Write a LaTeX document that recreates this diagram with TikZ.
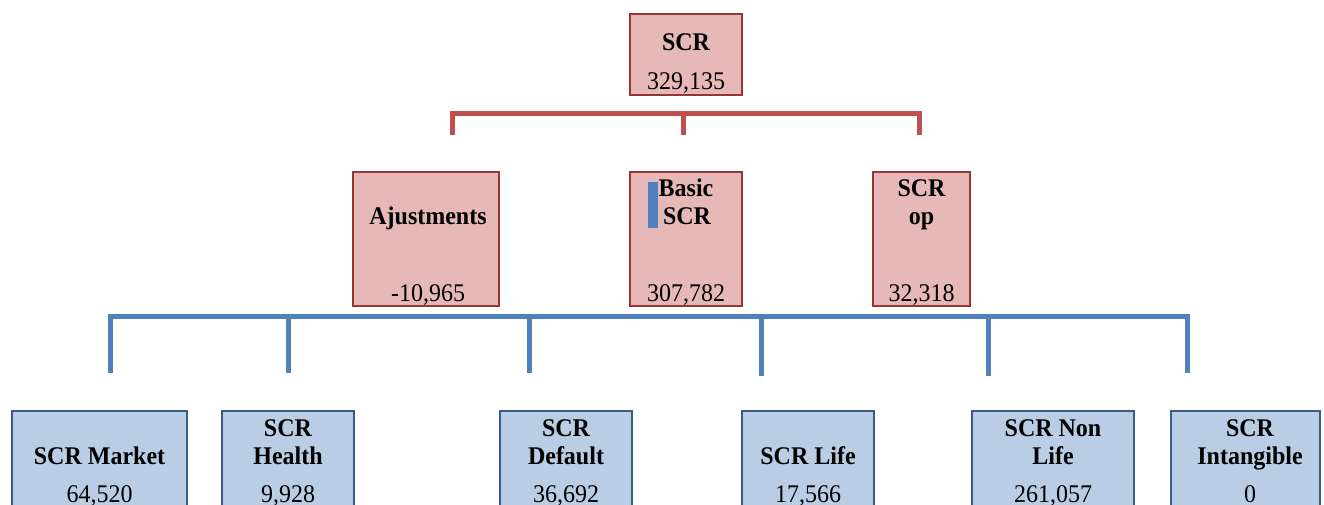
\documentclass[tikz,border=0pt]{standalone}
\usepackage{fontspec}
\setmainfont{Liberation Serif}
\definecolor{redfill}{RGB}{230,185,184}
\definecolor{redborder}{RGB}{150,55,53}
\definecolor{redline}{RGB}{192,80,77}
\definecolor{bluefill}{RGB}{185,205,229}
\definecolor{blueborder}{RGB}{56,93,138}
\definecolor{blueline}{RGB}{79,129,189}
\begin{document}
\begin{tikzpicture}[x=1pt,y=-1pt,
  redbox/.style={draw=redborder, fill=redfill, line width=2pt, inner sep=0pt},
  bluebox/.style={draw=blueborder, fill=bluefill, line width=2pt, inner sep=0pt},
  title/.style={font=\fontsize{24}{28}\selectfont\bfseries, inner sep=0pt, anchor=base, yscale=1.06},
  value/.style={font=\fontsize{24}{28}\selectfont, inner sep=0pt, anchor=base, yscale=1.06},
  redconn/.style={draw=redline, line width=5pt, line join=miter},
  blueconn/.style={draw=blueline, line width=5pt, line join=miter}]
\useasboundingbox (0,0) rectangle (1324,504);
\clip (0,0) rectangle (1324,504);
\fill[white] (0,0) rectangle (1324,504);

% top box
\node[redbox, minimum width=112pt, minimum height=81pt] (scr) at (686,54.5) {};
\node[title] (scrT) at (686,50) {SCR};
\node[value] (scrV) at (686,89) {329,135};

% red bracket
\coordinate (rL) at (452,113);
\coordinate (rM) at (683,113);
\coordinate (rR) at (919,113);
\coordinate (rLb) at (452,135);
\coordinate (rMb) at (683,135);
\coordinate (rRb) at (919,135);
\draw[redconn] (rLb) -- (rL) -- (rR) -- (rRb);
\draw[redconn] (rM) -- (rMb);

% middle boxes
\node[redbox, minimum width=146pt, minimum height=134pt] (adj) at (426,239) {};
\node[title] (adjT) at (428,224) {Ajustments};
\node[value] (adjV) at (428,301) {-10,965};

\node[redbox, minimum width=112pt, minimum height=134pt] (bas) at (686,239) {};
\node[title] (basT1) at (686,196) {Basic};
\node[title] (basT2) at (687,224) {SCR};
\node[value] (basV) at (686,301) {307,782};
\node[fill=blueline, minimum width=10pt, minimum height=46pt, inner sep=0pt] (bar) at (653,204.5) {};

\node[redbox, minimum width=97pt, minimum height=134pt] (op) at (921.5,239) {};
\node[title] (opT1) at (921.5,196) {SCR};
\node[title] (opT2) at (921.5,224) {op};
\node[value] (opV) at (921.5,301) {32,318};

% blue bracket
\coordinate (b1) at (110,316);
\coordinate (b2) at (288,316);
\coordinate (b3) at (529,316);
\coordinate (b4) at (761,316);
\coordinate (b5) at (988,316);
\coordinate (b6) at (1187,316);
\coordinate (b1b) at (110,373);
\coordinate (b2b) at (288,373);
\coordinate (b3b) at (529,373);
\coordinate (b4b) at (761,376);
\coordinate (b5b) at (988,376);
\coordinate (b6b) at (1187,373);
\draw[blueconn] (b1b) -- (b1) -- (b6) -- (b6b);
\draw[blueconn] (b2) -- (b2b);
\draw[blueconn] (b3) -- (b3b);
\draw[blueconn] (b4) -- (b4b);
\draw[blueconn] (b5) -- (b5b);

% bottom boxes
\node[bluebox, minimum width=175pt, minimum height=120pt] (mkt) at (99.5,471) {};
\node[title] (mktT) at (99.5,464) {SCR Market};
\node[value] (mktV) at (99.5,502) {64,520};

\node[bluebox, minimum width=132pt, minimum height=120pt] (hlt) at (288,471) {};
\node[title] (hltT1) at (288,436) {SCR};
\node[title] (hltT2) at (288,464) {Health};
\node[value] (hltV) at (288,502) {9,928};

\node[bluebox, minimum width=132pt, minimum height=120pt] (dft) at (566,471) {};
\node[title] (dftT1) at (566,436) {SCR};
\node[title] (dftT2) at (566,464) {Default};
\node[value] (dftV) at (566,502) {36,692};

\node[bluebox, minimum width=132pt, minimum height=120pt] (life) at (808,471) {};
\node[title] (lifeT) at (808,464) {SCR Life};
\node[value] (lifeV) at (808,502) {17,566};

\node[bluebox, minimum width=162pt, minimum height=120pt] (nl) at (1053,471) {};
\node[title] (nlT1) at (1053,436) {SCR Non};
\node[title] (nlT2) at (1053,464) {Life};
\node[value] (nlV) at (1053,502) {261,057};

\node[bluebox, minimum width=149pt, minimum height=120pt] (intg) at (1245.5,471) {};
\node[title] (intgT1) at (1250,436) {SCR};
\node[title] (intgT2) at (1250,464) {Intangible};
\node[value] (intgV) at (1250,502) {0};
\end{tikzpicture}
\end{document}
